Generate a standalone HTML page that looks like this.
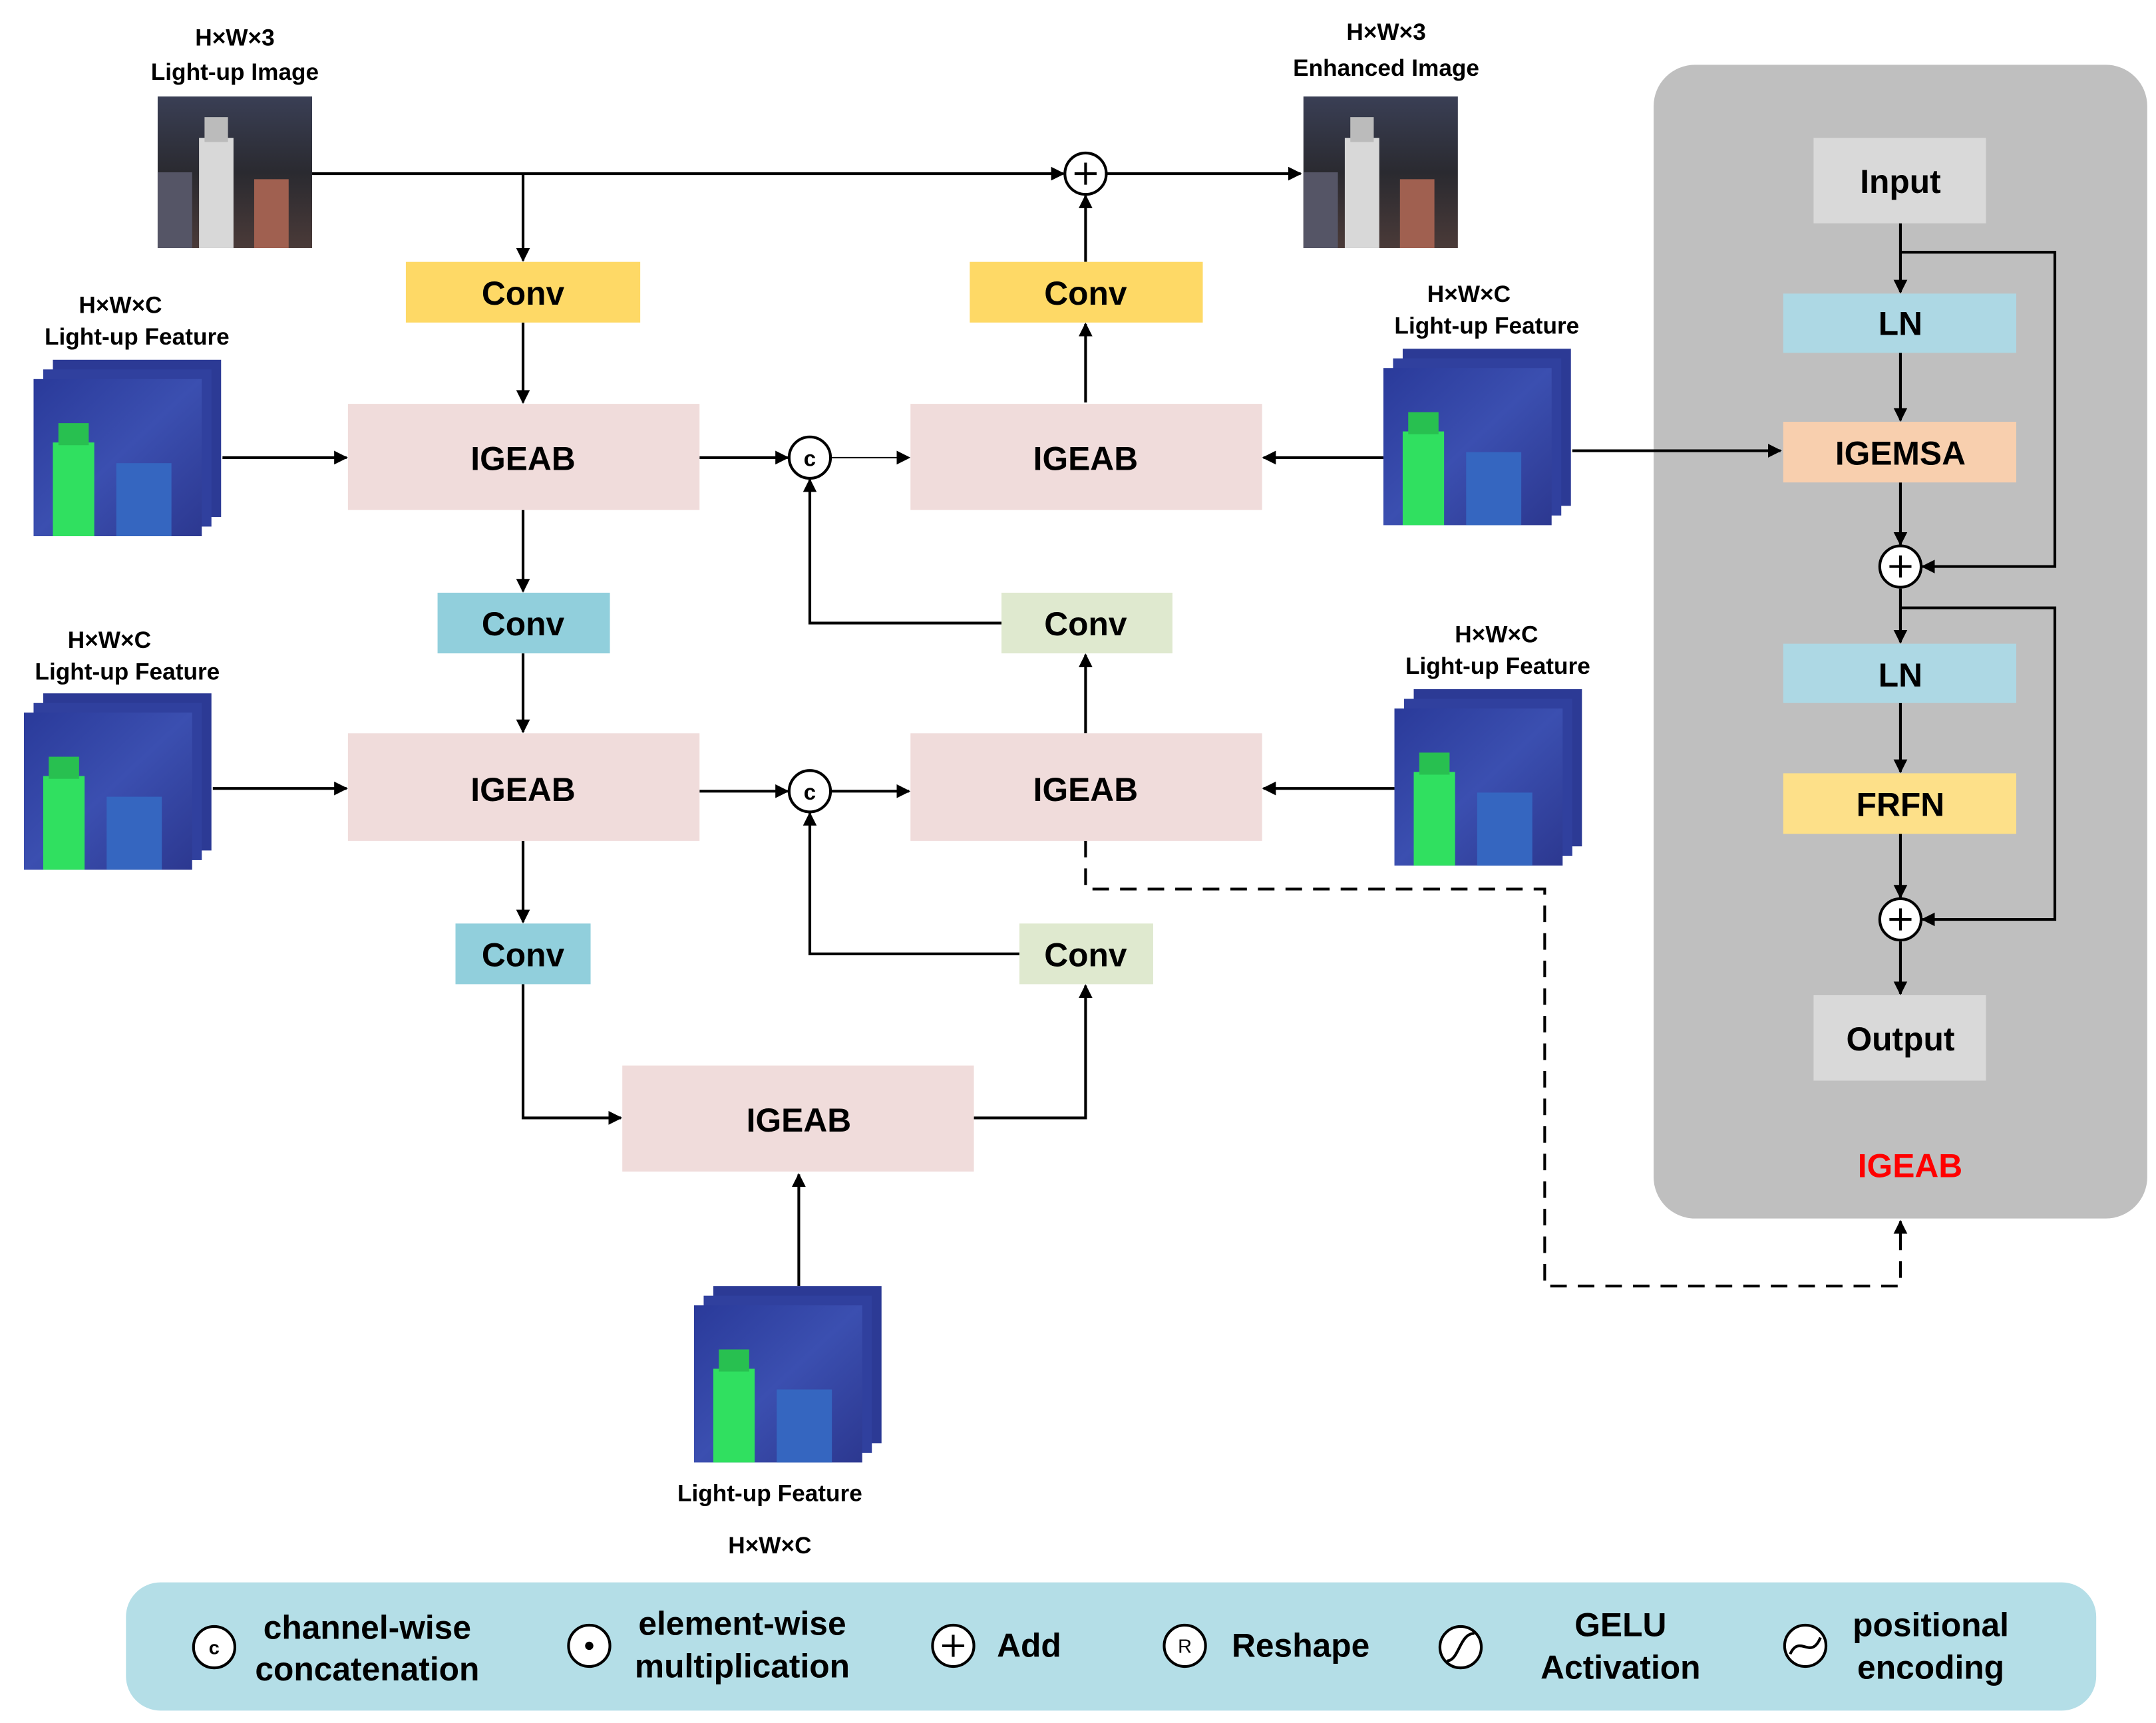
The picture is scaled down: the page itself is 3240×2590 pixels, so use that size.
<!DOCTYPE html>
<html><head><meta charset="utf-8"><style>
html,body{margin:0;padding:0;background:#fff;}
svg{display:block;}
text{font-family:"Liberation Sans",Arial,sans-serif;}
</style></head><body>
<svg width="3240" height="2590" viewBox="0 0 1563 1250" xmlns="http://www.w3.org/2000/svg">
<defs>
<marker id="ah" markerWidth="10" markerHeight="10" refX="9" refY="5" orient="auto" markerUnits="userSpaceOnUse">
<path d="M0,0 L10,5 L0,10 z" fill="#000"/></marker>
<linearGradient id="night" x1="0" y1="0" x2="0" y2="1">
<stop offset="0" stop-color="#3a3f55"/><stop offset="0.5" stop-color="#2a2a30"/><stop offset="1" stop-color="#4a3a38"/></linearGradient>
<linearGradient id="feat" x1="0" y1="0" x2="1" y2="1">
<stop offset="0" stop-color="#2a3a9a"/><stop offset="0.5" stop-color="#3b4fb0"/><stop offset="1" stop-color="#2c3890"/></linearGradient>
<g id="photo">
<rect x="0" y="0" width="112" height="110" fill="url(#night)"/>
<rect x="30" y="30" width="25" height="80" fill="#d8d8d8"/>
<rect x="34" y="15" width="17" height="18" fill="#bbb"/>
<rect x="70" y="60" width="25" height="50" fill="#a06050"/>
<rect x="0" y="55" width="25" height="55" fill="#556"/>
</g>
<g id="featimg">
<rect x="14" y="0" width="122" height="114" fill="#2c3a95"/>
<rect x="7" y="7" width="122" height="114" fill="#30409e"/>
<rect x="0" y="14" width="122" height="114" fill="url(#feat)"/>
<rect x="14" y="60" width="30" height="68" fill="#30e060"/>
<rect x="18" y="46" width="22" height="16" fill="#28c050"/>
<rect x="60" y="75" width="40" height="53" fill="#3566c0"/>
</g>
</defs>

<g stroke="#000" stroke-width="2" fill="none">
<line x1="226" y1="126" x2="771" y2="126" marker-end="url(#ah)"/>
<line x1="802" y1="126" x2="943" y2="126" marker-end="url(#ah)"/>
<line x1="379" y1="126" x2="379" y2="189" marker-end="url(#ah)"/>
<line x1="787" y1="190" x2="787" y2="142" marker-end="url(#ah)"/>
<line x1="379" y1="234" x2="379" y2="292" marker-end="url(#ah)"/>
<line x1="787" y1="292" x2="787" y2="235" marker-end="url(#ah)"/>
<line x1="161" y1="332" x2="251" y2="332" marker-end="url(#ah)"/>
<line x1="507" y1="332" x2="571" y2="332" marker-end="url(#ah)"/>
<line x1="602" y1="332" x2="659" y2="332" stroke-width="1" marker-end="url(#ah)"/>
<line x1="1003" y1="332" x2="916" y2="332" marker-end="url(#ah)"/>
<line x1="379" y1="370" x2="379" y2="429" marker-end="url(#ah)"/>
<line x1="379" y1="474" x2="379" y2="531" marker-end="url(#ah)"/>
<polyline points="726,452 587,452 587,348" marker-end="url(#ah)"/>
<line x1="787" y1="532" x2="787" y2="475" marker-end="url(#ah)"/>
<line x1="154" y1="572" x2="251" y2="572" marker-end="url(#ah)"/>
<line x1="507" y1="574" x2="571" y2="574" marker-end="url(#ah)"/>
<line x1="602" y1="574" x2="659" y2="574" marker-end="url(#ah)"/>
<line x1="1011" y1="572" x2="916" y2="572" marker-end="url(#ah)"/>
<line x1="379" y1="610" x2="379" y2="669" marker-end="url(#ah)"/>
<polyline points="739,692 587,692 587,590" marker-end="url(#ah)"/>
<polyline points="379,714 379,811 450,811" marker-end="url(#ah)"/>
<polyline points="706,811 787,811 787,715" marker-end="url(#ah)"/>
<line x1="579" y1="933" x2="579" y2="852" marker-end="url(#ah)"/>
<polyline points="787,610 787,645 1120,645 1120,933 1378,933 1378,886" stroke-dasharray="12,8" marker-end="url(#ah)"/>
</g>

<use href="#photo" x="114" y="70"/>
<use href="#photo" x="945" y="70"/>
<use href="#featimg" x="24" y="261"/>
<use href="#featimg" x="1003" y="253"/>
<use href="#featimg" x="17" y="503"/>
<use href="#featimg" x="1011" y="500"/>
<use href="#featimg" x="503" y="933"/>

<g font-size="17" font-weight="bold" text-anchor="middle" fill="#000">
<text x="170" y="33">H×W×3</text><text x="170" y="58">Light-up Image</text>
<text x="1005" y="29">H×W×3</text><text x="1005" y="55">Enhanced Image</text>
<text x="87" y="227">H×W×C</text><text x="99" y="250">Light-up Feature</text>
<text x="1065" y="219">H×W×C</text><text x="1078" y="242">Light-up Feature</text>
<text x="79" y="470">H×W×C</text><text x="92" y="493">Light-up Feature</text>
<text x="1085" y="466">H×W×C</text><text x="1086" y="489">Light-up Feature</text>
<text x="558" y="1089">Light-up Feature</text><text x="558" y="1127">H×W×C</text>
</g>

<g font-size="24" font-weight="bold" text-anchor="middle" fill="#000">
<rect x="294" y="190" width="170" height="44" fill="#fed966"/><text x="379" y="221">Conv</text>
<rect x="703" y="190" width="169" height="44" fill="#fed966"/><text x="787" y="221">Conv</text>
<rect x="252" y="293" width="255" height="77" fill="#f0dcdb"/><text x="379" y="341">IGEAB</text>
<rect x="660" y="293" width="255" height="77" fill="#f0dcdb"/><text x="787" y="341">IGEAB</text>
<rect x="317" y="430" width="125" height="44" fill="#91cfdc"/><text x="379" y="461">Conv</text>
<rect x="726" y="430" width="124" height="44" fill="#dfe9cf"/><text x="787" y="461">Conv</text>
<rect x="252" y="532" width="255" height="78" fill="#f0dcdb"/><text x="379" y="581">IGEAB</text>
<rect x="660" y="532" width="255" height="78" fill="#f0dcdb"/><text x="787" y="581">IGEAB</text>
<rect x="330" y="670" width="98" height="44" fill="#91cfdc"/><text x="379" y="701">Conv</text>
<rect x="739" y="670" width="97" height="44" fill="#dfe9cf"/><text x="787" y="701">Conv</text>
<rect x="451" y="773" width="255" height="77" fill="#f0dcdb"/><text x="579" y="821">IGEAB</text>
</g>

<g stroke="#000" stroke-width="2" fill="#fff">
<circle cx="787" cy="126" r="15"/><circle cx="587" cy="332" r="15"/><circle cx="587" cy="574" r="15"/>
</g>
<g stroke="#000" stroke-width="2"><line x1="779" y1="126" x2="795" y2="126"/><line x1="787" y1="118" x2="787" y2="134"/></g>
<g font-size="16" font-weight="bold" text-anchor="middle"><text x="587" y="338">c</text><text x="587" y="580">c</text></g>

<rect x="1199" y="47" width="358" height="837" rx="30" fill="#bfbfbf"/>
<g stroke="#000" stroke-width="2" fill="none">
<line x1="1140" y1="327" x2="1291" y2="327" marker-end="url(#ah)"/>
<line x1="1378" y1="162" x2="1378" y2="212" marker-end="url(#ah)"/>
<polyline points="1378,183 1490,183 1490,411 1394,411" marker-end="url(#ah)"/>
<line x1="1378" y1="256" x2="1378" y2="305" marker-end="url(#ah)"/>
<line x1="1378" y1="350" x2="1378" y2="395" marker-end="url(#ah)"/>
<line x1="1378" y1="427" x2="1378" y2="466" marker-end="url(#ah)"/>
<polyline points="1378,441 1490,441 1490,667 1394,667" marker-end="url(#ah)"/>
<line x1="1378" y1="510" x2="1378" y2="560" marker-end="url(#ah)"/>
<line x1="1378" y1="605" x2="1378" y2="651" marker-end="url(#ah)"/>
<line x1="1378" y1="683" x2="1378" y2="721" marker-end="url(#ah)"/>
</g>
<g font-size="24" font-weight="bold" text-anchor="middle">
<rect x="1315" y="100" width="125" height="62" fill="#d9d9d9"/><text x="1378" y="140">Input</text>
<rect x="1293" y="213" width="169" height="43" fill="#add8e4"/><text x="1378" y="243">LN</text>
<rect x="1293" y="306" width="169" height="44" fill="#f8cfae"/><text x="1378" y="337">IGEMSA</text>
<rect x="1293" y="467" width="169" height="43" fill="#add8e4"/><text x="1378" y="498">LN</text>
<rect x="1293" y="561" width="169" height="44" fill="#fde089"/><text x="1378" y="592">FRFN</text>
<rect x="1315" y="722" width="125" height="62" fill="#d9d9d9"/><text x="1378" y="762">Output</text>
<text x="1385" y="854" fill="#ff0000">IGEAB</text>
</g>
<g stroke="#000" stroke-width="2" fill="#fff"><circle cx="1378" cy="411" r="15"/><circle cx="1378" cy="667" r="15"/></g>
<g stroke="#000" stroke-width="2">
<line x1="1370" y1="411" x2="1386" y2="411"/><line x1="1378" y1="403" x2="1378" y2="419"/>
<line x1="1370" y1="667" x2="1386" y2="667"/><line x1="1378" y1="659" x2="1378" y2="675"/>
</g>

<rect x="91" y="1148" width="1429" height="93" rx="25" fill="#b4dee7"/>
<g stroke="#000" stroke-width="2" fill="#fff">
<circle cx="155" cy="1195" r="15"/><circle cx="427" cy="1194" r="15"/><circle cx="691" cy="1194" r="15"/>
<circle cx="859" cy="1194" r="15"/><circle cx="1059" cy="1195" r="15"/><circle cx="1309" cy="1194" r="15"/>
</g>
<g stroke="#000" stroke-width="2" fill="none">
<line x1="683" y1="1194" x2="699" y2="1194"/><line x1="691" y1="1186" x2="691" y2="1202"/>
<path d="M1049,1205 C1058,1205 1058,1185 1069,1185"/>
<path d="M1298,1200 C1305,1185 1313,1205 1320,1188"/>
</g>
<circle cx="427" cy="1194" r="3" fill="#000"/>
<g font-size="14" font-weight="bold" text-anchor="middle"><text x="155" y="1200">c</text><text x="859" y="1199" font-weight="normal">R</text></g>
<g font-size="24" font-weight="bold" text-anchor="middle" fill="#000">
<text x="266" y="1189">channel-wise</text><text x="266" y="1219">concatenation</text>
<text x="538" y="1186">element-wise</text><text x="538" y="1217">multiplication</text>
<text x="746" y="1202">Add</text>
<text x="943" y="1202">Reshape</text>
<text x="1175" y="1187">GELU</text><text x="1175" y="1218">Activation</text>
<text x="1400" y="1187">positional</text><text x="1400" y="1218">encoding</text>
</g>
</svg>
</body></html>
